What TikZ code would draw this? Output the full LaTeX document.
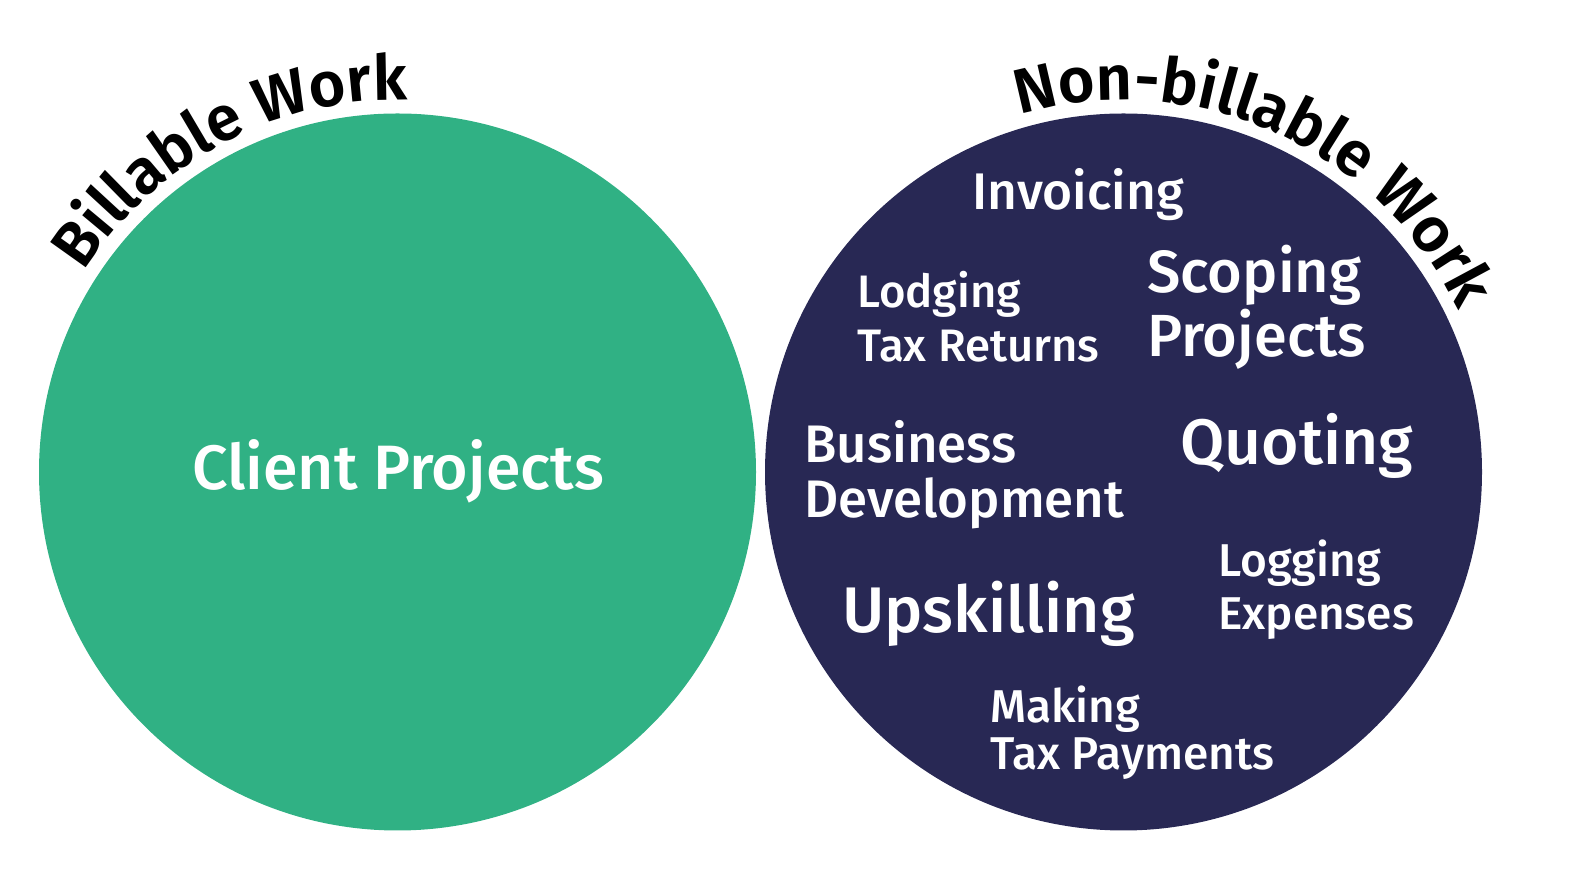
\documentclass[tikz,border=0pt]{standalone}
\usepackage{fontspec}
\setmainfont{Fira Sans}[UprightFont={* Medium},BoldFont={* SemiBold}]
\usepackage{xcolor}
\usetikzlibrary{positioning,calc,decorations.text}
\definecolor{billgreen}{RGB}{48,177,132}
\definecolor{nonbillnavy}{RGB}{40,40,84}
\newcommand{\fsz}[2]{\fontsize{#1}{#2}\selectfont}

\begin{document}
\begin{tikzpicture}[x=1pt,y=1pt,
    blob/.style={circle,inner sep=0pt,minimum size=717pt},
    task/.style={text=white,inner sep=0pt,anchor=base west,align=left},
    curvetitle/.style={decorate,decoration={text along path,text align=center,text={#1}}}]
      \useasboundingbox (0,0) rectangle (1569,888);
      \node[blob,fill=billgreen](bill) at (397.5,416){};%左の円
      \node[blob,fill=nonbillnavy](nonbill) at (1123.5,416){};%右の円
      \path[curvetitle={|\bfseries\fsz{63}{63}|Billable Work}]
        ($(bill.center)+(160:372pt)$) arc[start angle=160,end angle=76,radius=372pt];
      \path[curvetitle={|\bfseries\fsz{63}{63}|Non-billable Work}]
        ($(nonbill.center)+(111:372pt)$) arc[start angle=111,end angle=21,radius=372pt];
      \node[task,anchor=base,font=\fsz{62.7}{62.7}](client) at (398,398){Client Projects};
      \node[task,font=\fsz{51.5}{51.5}](invoice) at (972,678){Invoicing};
      \node[task,font=\fsz{45.5}{54}](lodge) at (857,526){Lodging\\Tax Returns};
      \node[task,font=\fsz{59.5}{64}](scope) at (1147,531){Scoping\\Projects};
      \node[task,font=\fsz{52.8}{55}](busdev) at (804,370){Business\\Development};
      \node[task,font=\fsz{64.2}{64.2}](quote) at (1180,423){Quoting};
      \node[task,font=\fsz{64.5}{64.5}](upskill) at (842,255){Upskilling};
      \node[task,font=\fsz{46}{53}](expense) at (1218,258){Logging\\Expenses};
      \node[task,font=\fsz{46}{47}](taxpay) at (990,118){Making\\Tax Payments};
    \end{tikzpicture}
\end{document}
